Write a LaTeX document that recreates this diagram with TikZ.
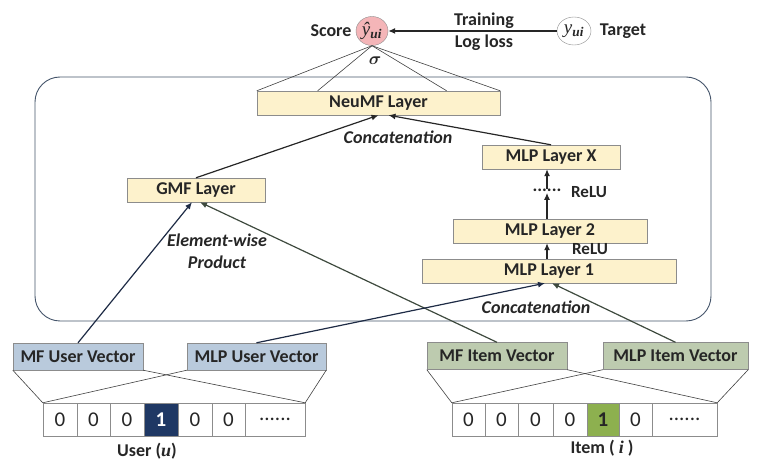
\documentclass[tikz,border=0pt]{standalone}
\usepackage{amsmath}
\usepackage{fontspec}
\setmainfont{Carlito}
\newfontfamily\symfont{Liberation Serif}
\usetikzlibrary{arrows.meta,shapes.geometric,calc}

\definecolor{layerfill}{HTML}{FDF2CC}
\definecolor{boxline}{HTML}{8C8C8C}
\definecolor{userfill}{HTML}{B9CADC}
\definecolor{itemfill}{HTML}{BDCBAF}
\definecolor{usernavy}{HTML}{1F3864}
\definecolor{itemgreen}{HTML}{8DB04F}
\definecolor{scorefill}{HTML}{F4B5B8}
\definecolor{frameline}{HTML}{44546A}
\definecolor{inkuser}{HTML}{1E2B45}
\definecolor{inkitem}{HTML}{3E4A3E}
\newcommand{\celldots}{......}
\newcommand{\symvar}[2]{{\symfont\itshape #1\textsubscript{\bfseries #2}}}

\begin{document}
\begin{tikzpicture}[x=1pt,y=-1pt,
    every node/.style={text=black!85, font=\fontsize{18}{22}\selectfont\bfseries},
    layer/.style={draw=boxline, fill=layerfill, minimum height=24pt, inner sep=0pt},
    uservec/.style={draw=boxline, fill=userfill, minimum height=27pt, inner sep=0pt},
    itemvec/.style={draw=boxline, fill=itemfill, minimum height=27pt, inner sep=0pt},
    cell/.style={draw=boxline, fill=white, minimum height=33pt, inner sep=0pt,
        font=\fontsize{21}{22}\selectfont},
    hotuser/.style={cell, fill=usernavy, text=white, font=\fontsize{21}{22}\selectfont\bfseries},
    hotitem/.style={cell, fill=itemgreen, font=\fontsize{21}{22}\selectfont\bfseries},
    link/.style={-{Latex[length=7pt,width=6pt]}, line width=1.2pt, draw=black!85},
    fan/.style={line width=0.6pt, draw=black!75},
    tag/.style={font=\fontsize{18}{22}\selectfont\bfseries\itshape}]
    \useasboundingbox (0,0) rectangle (764,473);

    % output part
    \node[ellipse, draw=boxline, fill=scorefill, minimum width=32pt, minimum height=29pt, inner sep=0pt,
        font=\fontsize{19}{20}\selectfont] (score) at (372,31) {\symvar{ŷ}{ui}};
    \node[ellipse, draw=boxline, fill=white, minimum width=34pt, minimum height=28pt, inner sep=0pt,
        font=\fontsize{19}{20}\selectfont] (target) at (574,31) {\symvar{y}{ui}};
    \node (scorelabel) at (331,31) {Score};
    \node (targetlabel) at (623,31) {Target};
    \node (training) at (484,21) {Training};
    \node (logloss) at (484,43) {Log loss};
    \node (sigma) at (375,61) {$\boldsymbol{\sigma}$};
    \draw[link] (target) -- (score);

    % model frame
    \draw[frameline, line width=0.9pt, rounded corners=25pt] (35,77) rectangle (711,321);

    % layers
    \node[layer, minimum width=243pt] (neumf) at (378.5,103) {NeuMF Layer};
    \node[layer, minimum width=138pt] (gmf) at (196,190) {GMF Layer};
    \node[layer, minimum width=138pt] (mlpx) at (551,157) {MLP Layer X};
    \node[layer, minimum width=194pt] (mlp2) at (550,231) {MLP Layer 2};
    \node[layer, minimum width=254pt] (mlp1) at (549,271) {MLP Layer 1};
    \node (dots) at (547,190) {\celldots};
    \node[font=\fontsize{17}{20}\selectfont\bfseries] (relux) at (589,192) {ReLU};
    \node[font=\fontsize{17}{20}\selectfont\bfseries] (relu2) at (590,249) {ReLU};
    \node[tag] (concattop) at (398,137) {Concatenation};
    \node[tag] (concatbot) at (536,307) {Concatenation};
    \node[tag, align=center] (product) at (217,251) {Element-wise\\Product};

    \foreach \f in {0,0.25,0.78,1}
        \draw[fan] (score.south) -- ($(neumf.north west)!\f!(neumf.north east)$);
    \draw[link] (gmf.north) -- (neumf.south);
    \draw[link] (mlpx.north) -- ([xshift=10pt]neumf.south);
    \draw[link] ([yshift=-4pt]dots.north) -- (dots.north |- mlpx.south);
    \draw[link] (dots.south |- mlp2.north) -- ([yshift=2pt]dots.south);
    \draw[link] (dots.south |- mlp1.north) -- (dots.south |- mlp2.south);

    % user side
    \begin{scope}[name prefix = user-]
        \node[uservec, minimum width=130pt] (mf) at (78,356.5) {MF User Vector};
        \node[uservec, minimum width=139pt] (mlp) at (256.5,356.5) {MLP User Vector};
        \foreach \l/\r/\v/\s [count=\k] in {43/77/0/cell, 77/110/0/cell, 110/144/0/cell,
                144/178/1/hotuser, 178/212/0/cell, 212/245/0/cell, 245/305/\celldots/cell} {
            \pgfmathsetmacro\w{\r-\l}
            \pgfmathsetmacro\m{(\l+\r)/2}
            \node[\s, minimum width=\w pt] (c\k) at (\m,419.5) {\v};
        }
        \node (label) at (147,451) {User ({\symfont\itshape u})};
        \draw[fan] (mf.south west) -- (c1.north west);
        \draw[fan] (mf.south east) -- (c7.north east);
        \draw[fan] (mlp.south west) -- (c1.north west);
        \draw[fan] (mlp.south east) -- (c7.north east);
    \end{scope}

    % item side
    \begin{scope}[name prefix = item-]
        \node[itemvec, minimum width=140pt] (mf) at (497,356) {MF Item Vector};
        \node[itemvec, minimum width=145pt] (mlp) at (675.5,356) {MLP Item Vector};
        \foreach \l/\r/\v/\s [count=\k] in {452/485/0/cell, 485/518/0/cell, 518/553/0/cell,
                553/587/0/cell, 587/619/1/hotitem, 619/652/0/cell, 652/717/\celldots/cell} {
            \pgfmathsetmacro\w{\r-\l}
            \pgfmathsetmacro\m{(\l+\r)/2}
            \node[\s, minimum width=\w pt] (c\k) at (\m,419.5) {\v};
        }
        \node (label) at (602,448) {Item ( {\symfont\itshape i} )};
        \draw[fan] (mf.south west) -- (c1.north west);
        \draw[fan] (mf.south east) -- (c7.north east);
        \draw[fan] (mlp.south west) -- (c1.north west);
        \draw[fan] (mlp.south east) -- (c7.north east);
    \end{scope}

    \draw[link, draw=inkuser] (user-mf.north) -- ([xshift=-4pt]gmf.south);
    \draw[link, draw=inkitem] (item-mf.north) -- ([xshift=4pt]gmf.south);
    \draw[link, draw=inkuser] (user-mlp.north) -- ([xshift=-4pt]mlp1.south);
    \draw[link, draw=inkitem] (item-mlp.north) -- ([xshift=3pt]mlp1.south);
\end{tikzpicture}
\end{document}
